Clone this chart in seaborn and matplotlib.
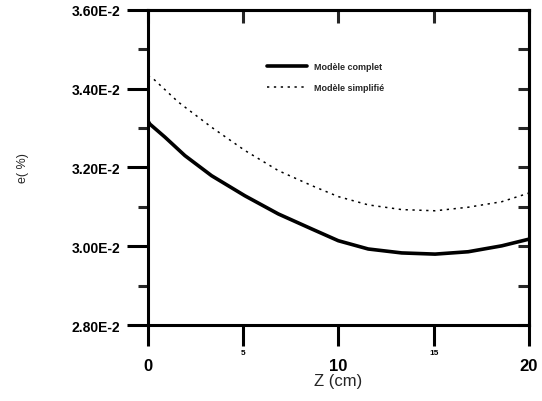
import matplotlib
matplotlib.use("Agg")
import matplotlib.pyplot as plt
import matplotlib.transforms as mtransforms
import seaborn as sns
import pandas as pd
from matplotlib.ticker import MultipleLocator

# Data
z_complet = [0, 0.1, 0.89, 1.94, 3.34, 5.09, 6.84, 8.59, 9.99, 11.56, 13.32, 15.07, 16.81, 18.57, 20]
e_complet = [0.03318, 0.03310, 0.03277, 0.03230, 0.03179, 0.03128, 0.03082, 0.03044, 0.03014,
             0.02993, 0.02983, 0.02980, 0.02986, 0.03001, 0.03018]
z_simple = [0, 0.28, 1.59, 3.34, 5.09, 6.84, 8.59, 9.99, 11.56, 13.32, 15.07, 16.81, 18.57, 20]
e_simple = [0.03432, 0.03425, 0.03366, 0.03302, 0.03243, 0.03192, 0.03154, 0.03126,
            0.03105, 0.03093, 0.03090, 0.03099, 0.03113, 0.03135]
labels = ["Modèle complet", "Modèle simplifié"]
y_ticks = [0.028, 0.030, 0.032, 0.034, 0.036]
x_ticks = [0, 5, 10, 15, 20]

sns.set_style("white")
plt.rcParams['font.family'] = ['Liberation Sans', 'DejaVu Sans']

fig = plt.figure(figsize=(5.42, 4.02), dpi=100)
ax = fig.add_axes([0.273, 0.189, 0.703, 0.784])

df1 = pd.DataFrame({"z": z_complet, "e": e_complet})
df2 = pd.DataFrame({"z": z_simple, "e": e_simple})
sns.lineplot(data=df1, x="z", y="e", ax=ax, color="black", lw=2.6, label=labels[0])
sns.lineplot(data=df2, x="z", y="e", ax=ax, color="black", lw=1.1, ls=(0, (1.5, 3)), label=labels[1])

ax.set_xlim(0, 20)
ax.set_ylim(0.028, 0.036)
ax.set_xticks(x_ticks)
ax.set_yticks(y_ticks)
ax.yaxis.set_minor_locator(MultipleLocator(0.001))
ax.set_yticklabels([f"{v*100:.2f}E-2" for v in y_ticks], fontsize=10, fontweight="bold")
ax.set_xticklabels([str(v) for v in x_ticks])

for s in ax.spines.values():
    s.set_linewidth(2.2)
    s.set_color("black")

ax.tick_params(axis="both", which="major", direction="out", length=15, width=2.2,
               colors="black", left=True, bottom=True)
ax.tick_params(axis="y", which="major", pad=5)
ax.tick_params(axis="y", which="minor", direction="out", length=7, width=2.2, left=True)
ax.tick_params(axis="x", which="major", pad=2)

for lab, v in zip(ax.get_xticklabels(), x_ticks):
    lab.set_fontweight("bold")
    if v in (5, 15):
        lab.set_fontsize(6)
    else:
        lab.set_fontsize(12)
        lab.set_transform(lab.get_transform() +
                          mtransforms.ScaledTranslation(0, -7 / 72, fig.dpi_scale_trans))

sec_x = ax.secondary_xaxis("top")
sec_x.set_xticks(x_ticks)
sec_x.tick_params(direction="in", length=9, width=2.2, labeltop=False, top=True)
sec_y = ax.secondary_yaxis("right")
sec_y.set_yticks(y_ticks)
sec_y.yaxis.set_minor_locator(MultipleLocator(0.001))
sec_y.tick_params(which="both", direction="in", length=8, width=2.2, labelright=False, right=True)
for s in list(sec_x.spines.values()) + list(sec_y.spines.values()):
    s.set_linewidth(2.2)

ax.set_xlabel("Z (cm)", fontsize=12, labelpad=0)
ax.set_ylabel("e( %)", fontsize=9, labelpad=31)

leg = ax.legend(loc="upper left", bbox_to_anchor=(0.29, 0.86), frameon=False,
                prop={"size": 6.5, "weight": "bold"}, handlelength=4.5, labelspacing=1.3)

fig.savefig("out.png", dpi=100)
